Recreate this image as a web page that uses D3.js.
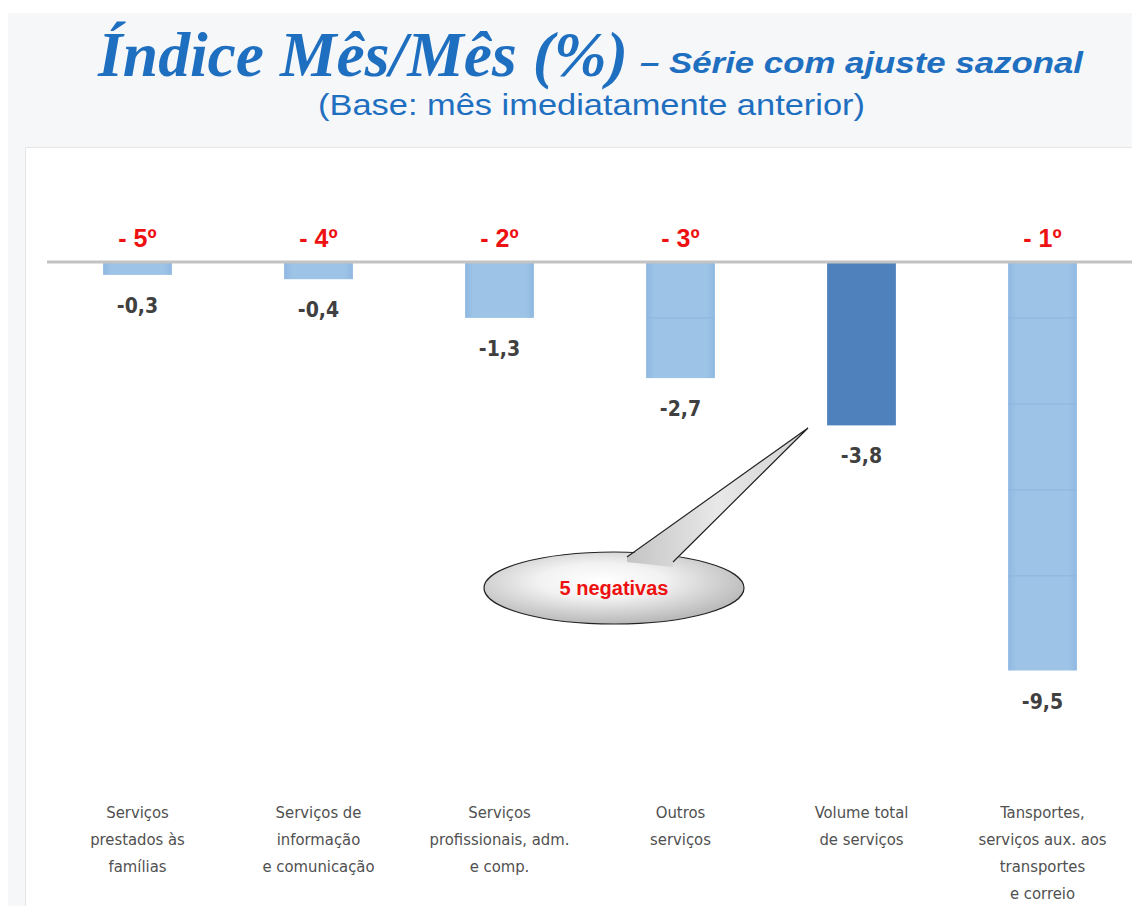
<!DOCTYPE html>
<html>
<head>
<meta charset="utf-8">
<script src="https://cdn.jsdelivr.net/npm/d3@7"></script>
<style>
  body { margin: 0; background: #fff; }
  svg { display: block; }
</style>
</head>
<body>
<svg id="svg" width="1132" height="906"></svg>
<script>
const categories = [
  ['Serviços', 'prestados às', 'famílias'],
  ['Serviços de', 'informação', 'e comunicação'],
  ['Serviços', 'profissionais, adm.', 'e comp.'],
  ['Outros', 'serviços'],
  ['Volume total', 'de serviços'],
  ['Tansportes,', 'serviços aux. aos', 'transportes', 'e correio']
]
const values = [-0.3, -0.4, -1.3, -2.7, -3.8, -9.5]
const ranks = ['- 5º', '- 4º', '- 2º', '- 3º', '', '- 1º']
const isTotal = [false, false, false, false, true, false]
const gridValues = [-1.3, -3.3, -5.3, -7.3]

const width = 1132
const height = 906
const svg = d3.select('#svg')

const defs = svg.append('defs')
const barGrad = defs.append('linearGradient').attr('id', 'barGrad')
barGrad.append('stop').attr('offset', '0%').attr('stop-color', '#8fb8e2')
barGrad.append('stop').attr('offset', '12%').attr('stop-color', '#9dc3e6')
barGrad.append('stop').attr('offset', '88%').attr('stop-color', '#9dc3e6')
barGrad.append('stop').attr('offset', '100%').attr('stop-color', '#8fb8e2')

const bubbleGrad = defs.append('radialGradient').attr('id', 'bubbleGrad')
  .attr('cx', '45%').attr('cy', '40%').attr('r', '60%')
bubbleGrad.append('stop').attr('offset', '0%').attr('stop-color', '#ffffff')
bubbleGrad.append('stop').attr('offset', '40%').attr('stop-color', '#f2f2f2')
bubbleGrad.append('stop').attr('offset', '100%').attr('stop-color', '#b8b8b8')

const tailGrad = defs.append('linearGradient').attr('id', 'tailGrad')
  .attr('x1', 0).attr('y1', 0).attr('x2', 1).attr('y2', 0)
tailGrad.append('stop').attr('offset', '0%').attr('stop-color', '#c4c4c4')
tailGrad.append('stop').attr('offset', '50%').attr('stop-color', '#e8e8e8')
tailGrad.append('stop').attr('offset', '100%').attr('stop-color', '#d0d0d0')

// backgrounds
svg.append('rect').attr('x', 8).attr('y', 13).attr('width', width - 8).attr('height', height - 13)
  .attr('fill', '#f6f7f9')
svg.append('rect').attr('x', 25.5).attr('y', 147.5).attr('width', width).attr('height', height)
  .attr('fill', '#ffffff').attr('stroke', '#e6e6e6')

// titles
const title = svg.append('g').attr('fill', '#1f6fc1')
title.append('text')
  .attr('x', 98).attr('y', 76)
  .attr('textLength', 530).attr('lengthAdjust', 'spacingAndGlyphs')
  .style('font-family', '"Liberation Serif", serif')
  .style('font-weight', 'bold').style('font-style', 'italic')
  .style('font-size', '63px')
  .text('Índice Mês/Mês (%)')
title.append('text')
  .attr('x', 640).attr('y', 73)
  .attr('textLength', 443).attr('lengthAdjust', 'spacingAndGlyphs')
  .style('font-family', '"Liberation Sans", Arial, sans-serif')
  .style('font-weight', 'bold').style('font-style', 'italic')
  .style('font-size', '30px')
  .text('– Série com ajuste sazonal')
title.append('text')
  .attr('x', 318).attr('y', 115)
  .attr('textLength', 547).attr('lengthAdjust', 'spacingAndGlyphs')
  .style('font-family', '"Liberation Sans", Arial, sans-serif')
  .style('font-size', '30px')
  .text('(Base: mês imediatamente anterior)')

// scales
const x = d3.scaleBand()
  .domain(d3.range(values.length))
  .range([47, 1133])
  .paddingInner(0.62)
  .paddingOuter(0.31)

const y = d3.scaleLinear()
  .domain([0, -10])
  .range([262, 692])

// bars
const bars = svg.append('g')
bars.selectAll('rect')
  .data(values)
  .join('rect')
  .attr('x', (d, i) => x(i))
  .attr('y', y(0))
  .attr('width', x.bandwidth())
  .attr('height', d => y(d) - y(0))
  .attr('fill', (d, i) => isTotal[i] ? '#4f81bd' : 'url(#barGrad)')

// faint gridlines showing through the light bars
values.forEach((v, i) => {
  if (isTotal[i]) return
  svg.append('g').selectAll('line')
    .data(gridValues.filter(g => g > v))
    .join('line')
    .attr('x1', x(i)).attr('x2', x(i) + x.bandwidth())
    .attr('y1', d => y(d)).attr('y2', d => y(d))
    .attr('stroke', '#8fb6df').attr('stroke-width', 1)
})

// zero line
svg.append('line')
  .attr('x1', 47).attr('x2', width)
  .attr('y1', y(0)).attr('y2', y(0))
  .attr('stroke', '#c3c3c3').attr('stroke-width', 3)

// rank labels
svg.append('g').selectAll('text')
  .data(ranks)
  .join('text')
  .attr('x', (d, i) => x(i) + x.bandwidth() / 2)
  .attr('y', 247)
  .style('text-anchor', 'middle')
  .style('font-family', '"Liberation Sans", Arial, sans-serif')
  .style('font-weight', 'bold')
  .style('font-size', '25px')
  .style('fill', '#ee1111')
  .text(d => d)

// value labels
const fmt = d => d3.format('.1f')(d).replace('.', ',').replace('−', '-')
svg.append('g').selectAll('text')
  .data(values)
  .join('text')
  .attr('x', (d, i) => x(i) + x.bandwidth() / 2)
  .attr('y', d => y(d) + 38)
  .style('text-anchor', 'middle')
  .style('font-family', '"Liberation Sans Narrow", "DejaVu Sans Condensed", sans-serif')
  .style('font-weight', 'bold')
  .style('font-size', '21px')
  .style('fill', '#404040')
  .text(d => fmt(d))

// category labels
const catG = svg.append('g').selectAll('text')
  .data(categories)
  .join('text')
  .attr('x', (d, i) => x(i) + x.bandwidth() / 2)
  .attr('y', 818)
  .style('text-anchor', 'middle')
  .style('font-family', '"Liberation Sans Narrow", "DejaVu Sans Condensed", sans-serif')
  .style('font-size', '16.5px')
  .style('fill', '#505050')
catG.selectAll('tspan')
  .data(d => d)
  .join('tspan')
  .attr('x', function () { return d3.select(this.parentNode).attr('x') })
  .attr('dy', (d, j) => j === 0 ? 0 : 27)
  .text(d => d)

// callout bubble
const bubble = svg.append('g')
bubble.append('ellipse')
  .attr('cx', 614).attr('cy', 588).attr('rx', 130).attr('ry', 36)
  .attr('fill', 'url(#bubbleGrad)')
  .attr('stroke', '#222').attr('stroke-width', 1.2)
bubble.append('path')
  .attr('d', 'M627,562 L627,558 L808,428 L673,563 L673,567 Z')
  .attr('fill', 'url(#tailGrad)')
bubble.append('path')
  .attr('d', 'M627,557 L808,428 L673,562')
  .attr('fill', 'none')
  .attr('stroke', '#222').attr('stroke-width', 1.2)
bubble.append('text')
  .attr('x', 614).attr('y', 595)
  .style('text-anchor', 'middle')
  .style('font-family', '"Liberation Sans", Arial, sans-serif')
  .style('font-weight', 'bold')
  .style('font-size', '20px')
  .style('fill', '#ee1111')
  .text('5 negativas')
</script>
</body>
</html>
